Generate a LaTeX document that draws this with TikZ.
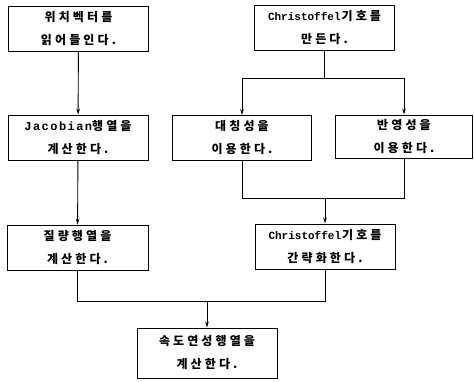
\documentclass[tikz,border=0pt]{standalone}
\usepackage{fontspec}
\usetikzlibrary{arrows.meta}
\newfontfamily\kr[LetterSpace=26]{Noto Sans CJK KR}
\newfontfamily\lat{Liberation Mono}
\newfontfamily\latw[LetterSpace=12]{Liberation Mono}
\newcommand{\la}[1]{{\lat\fontsize{11pt}{23pt}\selectfont #1}\hspace{1pt}}
\newcommand{\law}[1]{{\latw\fontsize{12pt}{23pt}\selectfont #1}}
\tikzset{
  box/.style={draw, line width=0.9pt, minimum width=140pt, minimum height=45pt,
    inner sep=0pt, align=center, font=\kr\bfseries\fontsize{12pt}{23pt}\selectfont},
  conn/.style={line width=0.9pt},
  arr/.style={conn, -{Stealth[length=6pt,width=3.6pt]}}
}
\begin{document}
\begin{tikzpicture}[x=1pt,y=-1pt]
\useasboundingbox (0,0) rectangle (474,381);
\node[box] (A) at (78.5,28.5) {위치벡터를\\읽어들인다.};
\node[box] (B) at (324.5,27.5) {\la{Christoffel}기호를\\만든다.};
\node[box] (C) at (78,137.5) {\law{Jacobian}행열을\\계산한다.};
\node[box, minimum width=139pt] (D) at (242,138) {대칭성을\\이용한다.};
\node[box, minimum width=137pt, minimum height=43pt] (E) at (404,136.5) {반영성을\\이용한다.};
\node[box, minimum width=141pt] (F) at (77.5,247.5) {질량행열을\\계산한다.};
\node[box] (G) at (325,246.5) {\la{Christoffel}기호를\\간략화한다.};
\node[box, minimum height=50pt] (H) at (207,353) {속도연성행열을\\계산한다.};
\coordinate (j1) at (324.5,78);
\coordinate (j2) at (325,198);
\coordinate (j3) at (207,301);
\draw[arr] (A) -- (C);
\draw[arr] (C) -- (F);
\draw[conn] (B) -- (j1);
\draw[arr] (j1) -| (D);
\draw[arr] (j1) -| (E);
\draw[conn] (D) |- (j2);
\draw[conn] (E) |- (j2);
\draw[arr] (j2) -- (G);
\draw[conn] (F) |- (j3);
\draw[conn] (G) |- (j3);
\draw[arr] (j3) -- (H);
\end{tikzpicture}
\end{document}
